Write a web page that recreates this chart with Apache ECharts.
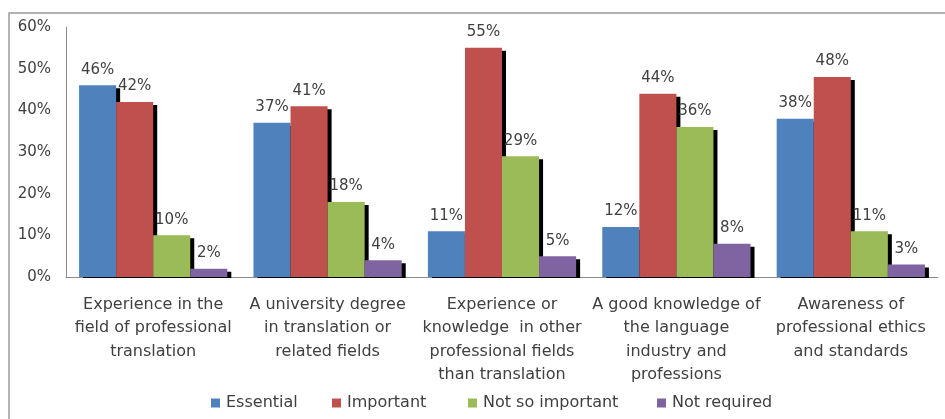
<!DOCTYPE html>
<html>
<head>
<meta charset="utf-8">
<script src="https://cdn.jsdelivr.net/npm/echarts@6/dist/echarts.min.js"></script>
<style>
  html, body { margin: 0; padding: 0; background: #fff; }
  #chart { width: 945px; height: 419px; }
</style>
</head>
<body>
<div id="chart"></div>
<script>
const categories = [
  'Experience in the\nfield of professional\ntranslation',
  'A university degree\nin translation or\nrelated fields',
  'Experience or\nknowledge  in other\nprofessional fields\nthan translation',
  'A good knowledge of\nthe language\nindustry and\nprofessions',
  'Awareness of\nprofessional ethics\nand standards'
];
const seriesNames = ['Essential', 'Important', 'Not so important', 'Not required'];
const essential = [46, 37, 11, 12, 38];
const important = [42, 41, 55, 44, 48];
const notSoImportant = [10, 18, 29, 36, 11];
const notRequired = [2, 4, 5, 8, 3];
const colors = ['#4F81BD', '#C0504D', '#9BBB59', '#8064A2'];
const legendLeft = [206, 327, 463, 652];

const font = 'DejaVu Sans';
const textColor = '#404040';

const chart = echarts.init(document.getElementById('chart'));

function barSeries(name, data, color) {
  return {
    name: name,
    type: 'bar',
    data: data,
    barGap: '0%',
    barCategoryGap: '15%',
    itemStyle: {
      color: color,
      shadowColor: '#000',
      shadowBlur: 0,
      shadowOffsetX: 4,
      shadowOffsetY: 3
    },
    label: {
      show: true,
      position: 'top',
      distance: 8,
      formatter: '{c}%',
      fontFamily: font,
      fontSize: 15,
      color: textColor
    }
  };
}

// one legend per item so each sits where the reference puts it
const legends = seriesNames.map((name, i) => ({
  left: legendLeft[i],
  top: 390,
  icon: 'rect',
  itemWidth: 9,
  itemHeight: 9,
  textStyle: { fontFamily: font, fontSize: 16, color: textColor, padding: [0, 0, 0, 1] },
  data: [name]
}));

chart.setOption({
  animation: false,
  textStyle: { fontFamily: font },
  graphic: [{
    type: 'rect',
    shape: { x: 9, y: 13, width: 945, height: 420 },
    style: { fill: 'none', stroke: '#9a9a9a', lineWidth: 1.5 },
    silent: true
  }, {
    // hide the part of the drop shadows that falls below the x axis
    type: 'rect',
    shape: { x: 67, y: 278, width: 875, height: 4 },
    style: { fill: '#fff' },
    z: 100,
    silent: true
  }],
  grid: { left: 66, right: 7, top: 27, bottom: 142 },
  legend: legends,
  xAxis: {
    type: 'category',
    data: categories,
    axisLine: { lineStyle: { color: '#8c8c8c' } },
    axisTick: { show: false },
    axisLabel: {
      interval: 0,
      margin: 16,
      fontFamily: font,
      fontSize: 16,
      lineHeight: 23.5,
      color: textColor
    }
  },
  yAxis: {
    type: 'value',
    min: 0,
    max: 60,
    interval: 10,
    axisLine: { show: true, lineStyle: { color: '#8c8c8c' } },
    axisTick: { show: false },
    splitLine: { show: false },
    axisLabel: {
      formatter: '{value}%',
      margin: 15,
      padding: [4, 0, 0, 0],
      fontFamily: font,
      fontSize: 15,
      color: textColor
    }
  },
  series: [
    barSeries(seriesNames[0], essential, colors[0]),
    barSeries(seriesNames[1], important, colors[1]),
    barSeries(seriesNames[2], notSoImportant, colors[2]),
    barSeries(seriesNames[3], notRequired, colors[3])
  ]
});
</script>
</body>
</html>
